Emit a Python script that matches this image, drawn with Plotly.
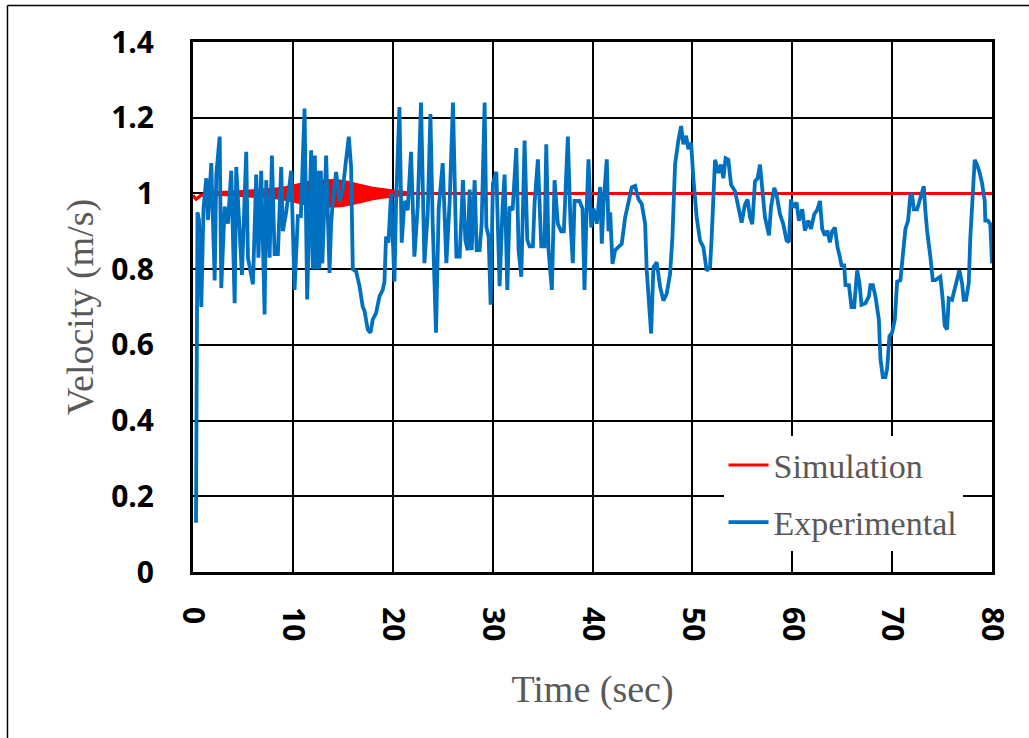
import plotly.graph_objects as go

# Experimental velocity record (time in s, velocity in m/s)
exp_time = [
    0.3, 0.45, 0.6, 0.83, 1.05, 1.33, 1.5, 1.83, 2.17, 2.33, 2.67, 2.83, 3.17, 3.5, 3.83,
    4.17, 4.33, 4.67, 4.9, 5.33, 5.5, 6.0, 6.33, 6.55, 6.83, 7.17, 7.33, 7.67, 7.9, 8.17,
    8.5, 8.83, 9.0, 9.33, 9.83, 10.17, 10.5, 10.8, 11.17, 11.43, 11.83, 12.0, 12.2, 12.35,
    12.5, 12.65, 12.8, 12.95, 13.33, 13.67, 13.83, 14.0, 14.33, 14.67, 15.0, 15.33, 15.6,
    15.83, 16.0, 16.33, 16.67, 17.0, 17.17, 17.5, 17.77, 18.0, 18.33, 18.67, 19.0, 19.17,
    19.33, 19.57, 19.83, 20.17, 20.33, 20.67, 20.9, 21.17, 21.5, 21.83, 22.17, 22.5, 22.83,
    23.17, 23.5, 23.77, 24.0, 24.33, 24.6, 25.0, 25.37, 25.7, 26.03, 26.37, 26.7, 27.03,
    27.27, 27.5, 27.7, 27.9, 28.2, 28.4, 28.7, 28.9, 29.2, 29.37, 29.6, 29.8, 30.03, 30.37,
    30.7, 31.0, 31.2, 31.47, 31.7, 32.0, 32.37, 32.6, 32.87, 33.2, 33.47, 33.7, 34.03,
    34.2, 34.53, 34.87, 35.2, 35.37, 35.6, 35.93, 36.2, 36.53, 36.87, 37.13, 37.53, 37.8,
    38.03, 38.2, 38.7, 39.0, 39.2, 39.4, 39.6, 39.87, 40.1, 40.43, 40.77, 40.93, 41.1,
    41.43, 41.6, 41.77, 42.0, 42.27, 42.6, 42.93, 43.27, 43.6, 43.93, 44.27, 44.6, 44.93,
    45.27, 45.43, 45.67, 45.87, 46.1, 46.43, 46.77, 47.1, 47.43, 47.77, 48.0, 48.27, 48.6,
    48.87, 49.1, 49.37, 49.6, 49.87, 50.1, 50.43, 50.77, 51.1, 51.43, 51.77, 51.93, 52.1,
    52.27, 52.6, 52.87, 53.1, 53.33, 53.6, 53.87, 54.27, 54.6, 54.93, 55.27, 55.53, 55.77,
    56.0, 56.27, 56.53, 56.77, 57.0, 57.27, 57.67, 57.87, 58.2, 58.43, 58.77, 59.1, 59.43,
    59.67, 59.87, 60.1, 60.43, 60.67, 61.0, 61.27, 61.6, 61.87, 62.2, 62.53, 62.77, 63.0,
    63.27, 63.53, 63.77, 64.0, 64.27, 64.53, 64.77, 64.93, 65.2, 65.33, 65.67, 65.93,
    66.2, 66.5, 66.73, 66.93, 67.33, 67.67, 67.83, 68.07, 68.33, 68.5, 68.67, 68.83,
    69.07, 69.33, 69.5, 69.73, 70.0, 70.27, 70.5, 70.83, 71.0, 71.17, 71.33, 71.6, 71.83,
    72.0, 72.17, 72.5, 72.83, 73.17, 73.33, 73.5, 73.83, 74.07, 74.33, 74.83, 75.07,
    75.27, 75.5, 75.67, 76.0, 76.33, 76.73, 77.0, 77.17, 77.4, 77.67, 77.83, 78.0, 78.27,
    78.5, 78.73, 79.0, 79.27, 79.33, 79.6, 79.83, 80.0,
]
exp_velocity = [
    0.13, 0.95, 0.93, 0.70, 0.96, 1.04, 0.93, 1.08, 0.77, 1.05, 1.15, 0.75, 0.965, 0.92, 1.06,
    0.71, 1.07, 0.87, 0.785, 1.11, 0.83, 0.76, 1.05, 0.83, 1.06, 0.68, 1.035, 0.83, 1.10, 0.84,
    0.84, 1.07, 0.90, 0.95, 1.06, 0.745, 0.94, 0.94, 1.224, 0.72, 1.114, 0.80, 1.10, 0.80,
    1.06, 0.80, 1.06, 0.815, 1.10, 0.79, 0.92, 0.98, 1.057, 0.98, 1.01, 1.09, 1.15,
    1.07, 0.80, 0.794, 0.755, 0.70, 0.69, 0.64, 0.632, 0.667, 0.684, 0.728, 0.745, 0.767,
    0.886, 0.87, 1.0, 0.767, 0.974, 1.228, 0.87, 0.98, 0.956, 1.11, 0.833, 0.965, 1.24,
    0.816, 0.947, 1.21, 0.92, 0.632, 0.96, 1.08, 0.816, 0.98, 1.24, 0.833, 0.833, 1.035,
    0.877, 0.85, 1.01, 0.85, 1.035, 0.85, 0.85, 0.92, 1.24, 0.912, 0.886, 0.706, 1.026, 1.057,
    0.755, 0.965, 1.05, 0.745, 0.965, 0.956, 1.12, 0.85, 0.78, 1.14, 0.877, 0.86, 0.86,
    0.974, 1.09, 0.86, 0.86, 1.13, 0.85, 0.745, 1.035, 0.92, 0.90, 0.90, 1.15, 0.92,
    0.816, 0.98, 0.98, 0.96, 0.745, 0.95, 1.09, 0.91, 0.96, 0.92, 1.017, 0.867, 0.97,
    1.09, 0.90, 0.95, 0.814, 0.85, 0.86, 0.867, 0.937, 0.972, 1.016, 1.02, 0.985, 0.972,
    0.92, 0.796, 0.70, 0.63, 0.805, 0.818, 0.753, 0.717, 0.735, 0.788, 0.884, 1.077, 1.14,
    1.178, 1.13, 1.152, 1.117, 1.134, 1.04, 0.937, 0.875, 0.858, 0.796, 0.805, 0.884, 1.0,
    1.089, 1.054, 1.076, 1.04, 1.093, 1.089, 1.023, 1.006, 0.963, 0.923, 0.971, 0.984, 0.937,
    0.919, 1.032, 1.04, 1.076, 1.006, 0.937, 0.889, 0.963, 1.015, 0.997, 0.945, 0.919, 0.876,
    0.871, 0.984, 0.963, 0.976, 0.928, 0.958, 0.902, 0.928, 0.906, 0.945, 0.958, 0.98, 0.906,
    0.889, 0.902, 0.871, 0.90, 0.91, 0.858, 0.832, 0.81, 0.81, 0.758, 0.758, 0.70,
    0.70, 0.797, 0.763, 0.706, 0.71, 0.728, 0.758, 0.758, 0.728, 0.689, 0.667, 0.563,
    0.515, 0.515, 0.537, 0.623, 0.632, 0.667, 0.767, 0.771, 0.81, 0.867, 0.906, 0.928, 0.997,
    0.997, 0.958, 0.958, 0.989, 1.019, 0.954, 0.902, 0.832, 0.771, 0.771, 0.78, 0.719,
    0.65, 0.641, 0.723, 0.719, 0.758, 0.797, 0.763, 0.719, 0.719, 0.763, 0.884, 0.984, 1.089,
    1.076, 1.058, 1.028, 0.98, 0.928, 0.928, 0.919, 0.815,
]

# Simulated velocity: envelope of the fast oscillation (upper / lower bounds)
sim_time = [0, 0.3, 0.8, 2, 4, 6, 8, 9, 10, 11, 12, 13, 14, 15, 16, 17, 18, 19, 20, 21, 22, 80]
sim_upper = [0.995, 0.985, 0.995, 1.002, 1.004, 1.007, 1.011, 1.014, 1.019, 1.026, 1.032,
             1.034, 1.034, 1.032, 1.027, 1.020, 1.014, 1.010, 1.007, 1.004, 1.0, 1.0]
sim_lower = [0.995, 0.985, 0.995, 0.998, 0.996, 0.993, 0.989, 0.986, 0.981, 0.974, 0.968,
             0.966, 0.966, 0.968, 0.973, 0.980, 0.986, 0.990, 0.993, 0.996, 1.0, 1.0]

x_ticks = [0, 10, 20, 30, 40, 50, 60, 70, 80]
y_ticks = [0, 0.2, 0.4, 0.6, 0.8, 1, 1.2, 1.4]

RED = "#FF0000"
BLUE = "#0070C0"
GREY_TEXT = "#595959"
SERIF = "Liberation Serif"
TICK_FONT = dict(family="Open Sans", size=30, color="black", weight="bold")

fig = go.Figure()

fig.add_trace(go.Scatter(
    x=sim_time, y=sim_lower, mode="lines", name="Simulation",
    line=dict(color=RED, width=3), legendgroup="sim",
))
fig.add_trace(go.Scatter(
    x=sim_time, y=sim_upper, mode="lines", name="Simulation",
    line=dict(color=RED, width=3), fill="tonexty", fillcolor=RED,
    legendgroup="sim", showlegend=False,
))
fig.add_trace(go.Scatter(
    x=exp_time, y=exp_velocity, mode="lines", name="Experimental",
    line=dict(color=BLUE, width=3.8),
))

axis_common = dict(
    showgrid=True, gridcolor="black", gridwidth=2,
    showline=True, linecolor="black", linewidth=3, mirror=True,
    zeroline=False, ticks="", tickfont=TICK_FONT,
)

fig.update_xaxes(
    range=[0, 80], tickvals=x_ticks, ticktext=[str(v) for v in x_ticks],
    tickangle=90, ticklabelstandoff=26,
    title=dict(text="Time (sec)", font=dict(family=SERIF, size=38, color=GREY_TEXT), standoff=36),
    **axis_common,
)
fig.update_yaxes(
    range=[0, 1.4], tickvals=y_ticks, ticktext=[f"{v:g}" for v in y_ticks],
    ticklabelstandoff=30,
    title=dict(text="Velocity (m/s)", font=dict(family=SERIF, size=38, color=GREY_TEXT), standoff=6),
    **axis_common,
)

# thin outer border of the figure (left and top edges)
fig.add_shape(type="line", xref="paper", yref="paper",
              x0=-0.2322, x1=1.1, y0=1.0689, y1=1.0689, line=dict(color="black", width=1.5))
fig.add_shape(type="line", xref="paper", yref="paper",
              x0=-0.2322, x1=-0.2322, y0=1.0689, y1=-0.4, line=dict(color="black", width=1.5))

fig.update_layout(
    width=1029, height=738,
    margin=dict(l=193, r=37, t=42, b=166),
    paper_bgcolor="white", plot_bgcolor="white",
    showlegend=True,
    legend=dict(
        x=0.664, y=0.256, xanchor="left", yanchor="top",
        bgcolor="white", borderwidth=0,
        font=dict(family=SERIF, size=34, color=GREY_TEXT),
        itemwidth=40,
    ),
)

fig.write_html("out.html")
